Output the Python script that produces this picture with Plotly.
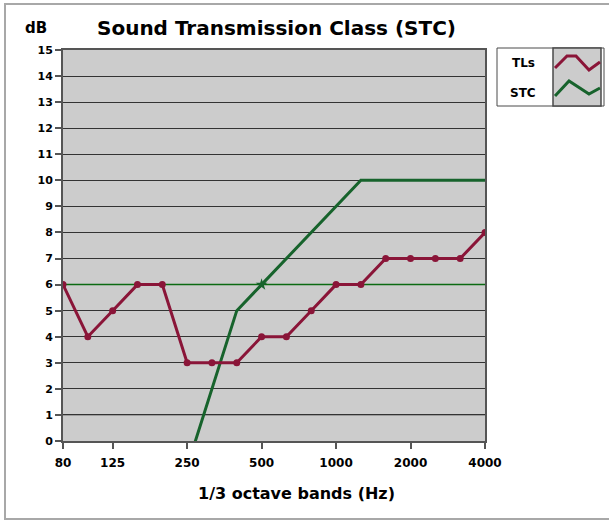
import plotly.graph_objects as go

# ---- data ----
bands = ["80", "100", "125", "160", "200", "250", "315", "400", "500",
         "630", "800", "1000", "1250", "1600", "2000", "2500", "3150", "4000"]
tl_values = [6, 4, 5, 6, 6, 3, 3, 3, 4, 4, 5, 6, 6, 7, 7, 7, 7, 8]
stc_contour = [None, None, -10, -7, -4, -1, 2, 5, 6, 7, 8, 9, 10, 10, 10, 10, 10, 10]
stc_rating_band = "500"
stc_rating = 6
x_tick_labels = ["80", "125", "250", "500", "1000", "2000", "4000"]
y_ticks = list(range(0, 16))

W, H = 609, 521
L, R, T, B = 63, 485, 50, 441
TL_COLOR = "#8A1538"
STC_COLOR = "#17632C"
FONT = "DejaVu Sans"


def px(x):
    return (x - L) / (R - L)


def py(y):
    return (B - y) / (B - T)


fig = go.Figure()

# STC rating horizontal line
fig.add_trace(go.Scatter(x=bands, y=[stc_rating] * len(bands), mode="lines",
                         line=dict(color="#0B6A12", width=1.5),
                         hoverinfo="skip", showlegend=False))
# STC contour
fig.add_trace(go.Scatter(x=bands, y=stc_contour, mode="lines",
                         line=dict(color=STC_COLOR, width=3),
                         name="STC", showlegend=False, connectgaps=False))
# STC rating marker
fig.add_trace(go.Scatter(x=[stc_rating_band], y=[stc_rating], mode="markers",
                         marker=dict(symbol="star", size=9, color=STC_COLOR),
                         showlegend=False, hoverinfo="skip"))
# TL curve
fig.add_trace(go.Scatter(x=bands, y=tl_values, mode="lines+markers",
                         line=dict(color=TL_COLOR, width=3),
                         marker=dict(symbol="circle", size=7, color=TL_COLOR),
                         name="TLs", showlegend=False))

shapes = []
# lighter gridline at 1 dB
shapes.append(dict(type="line", xref="paper", yref="y", x0=0, x1=1, y0=1, y1=1,
                   line=dict(color="#8C8C8C", width=1.5), layer="between"))
# outer frame
shapes.append(dict(type="rect", xref="paper", yref="paper",
                   x0=px(5), x1=px(615), y0=py(4), y1=py(519),
                   line=dict(color="#A8A8A8", width=2), layer="below"))
# legend outer box
shapes.append(dict(type="rect", xref="paper", yref="paper",
                   x0=px(497), x1=px(604), y0=py(48), y1=py(106),
                   line=dict(color="#4A4A4A", width=1), fillcolor="white"))
# legend sample box
shapes.append(dict(type="rect", xref="paper", yref="paper",
                   x0=px(553), x1=px(601), y0=py(48), y1=py(106),
                   line=dict(color="#4A4A4A", width=1.5), fillcolor="#CCCCCC"))


def zig(points):
    return "M " + " L ".join(f"{px(a):.4f},{py(b):.4f}" for a, b in points)


shapes.append(dict(type="path", xref="paper", yref="paper",
                   path=zig([(555, 68), (567, 56), (576, 56), (589, 70), (600, 62)]),
                   line=dict(color=TL_COLOR, width=3)))
shapes.append(dict(type="path", xref="paper", yref="paper",
                   path=zig([(555, 96), (569, 81), (589, 94), (600, 88)]),
                   line=dict(color=STC_COLOR, width=3)))


def label(text, x, y, size, color="black"):
    return dict(text=f"<b>{text}</b>", xref="paper", yref="paper",
                x=px(x), y=py(y), xanchor="center", yanchor="middle",
                showarrow=False, font=dict(family=FONT, size=size, color=color))


annotations = [
    label("Sound Transmission Class (STC)", 276, 28, 20),
    label("dB", 36, 28, 15),
    label("1/3 octave bands (Hz)", 296, 493, 16),
    label("TLs", 523, 63, 12),
    label("STC", 523, 93, 12),
    dict(text="<b>STC</b>", x=stc_rating_band, y=stc_rating, xref="x", yref="y",
         xshift=-4, yshift=25, showarrow=False, xanchor="center", yanchor="middle",
         font=dict(family=FONT, size=14, color=STC_COLOR)),
]

fig.update_layout(
    width=W, height=H,
    margin=dict(l=L, r=W - R, t=T, b=H - B, pad=0),
    paper_bgcolor="white",
    plot_bgcolor="#CCCCCC",
    showlegend=False,
    shapes=shapes,
    annotations=annotations,
    font=dict(family=FONT, color="black"),
)

fig.update_xaxes(
    type="category", categoryorder="array", categoryarray=bands,
    range=[0, len(bands) - 1],
    tickmode="array", tickvals=x_tick_labels, ticktext=x_tick_labels,
    ticks="outside", ticklen=6, tickcolor="#555555", tickwidth=1.5,
    ticklabelstandoff=4,
    tickfont=dict(family=FONT, size=12, weight="bold", color="black"),
    showgrid=False, zeroline=False,
    showline=True, linecolor="#555555", linewidth=2, mirror=True,
)
fig.update_yaxes(
    range=[0, 15], tickmode="array", tickvals=y_ticks,
    ticks="outside", ticklen=6, tickcolor="#555555", tickwidth=1.5,
    tickfont=dict(family=FONT, size=11, weight="bold", color="black"),
    showgrid=True, gridcolor="#333333", gridwidth=1,
    zeroline=False,
    showline=True, linecolor="#555555", linewidth=2, mirror=True,
)

fig.write_html("out.html",
               config={"displayModeBar": False},
               post_script="document.body.style.margin='0';document.body.style.overflow='hidden';")
